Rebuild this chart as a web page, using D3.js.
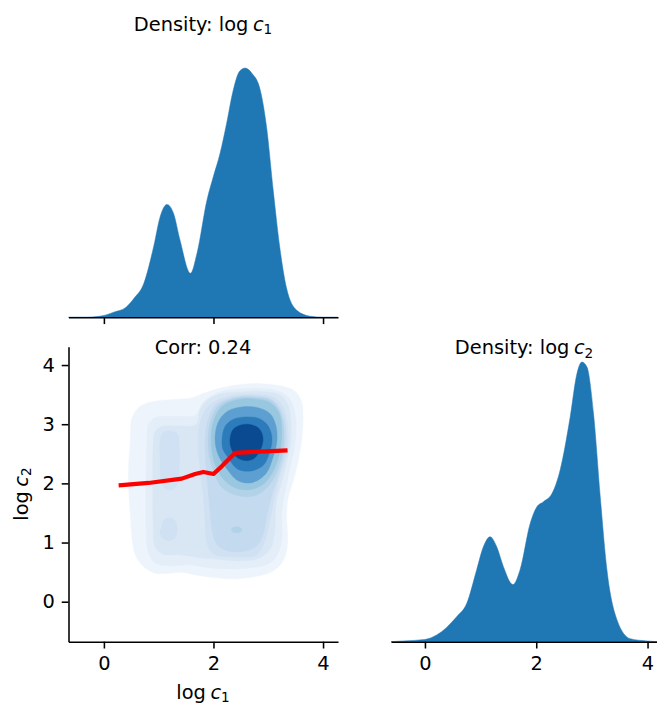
<!DOCTYPE html>
<html>
<head>
<meta charset="utf-8">
<script src="https://cdn.jsdelivr.net/npm/d3@7"></script>
<style>
  html, body { margin: 0; padding: 0; background: #fff; }
  svg { display: block; }
  text { font-family: "DejaVu Sans", sans-serif; fill: #000; }
</style>
</head>
<body>
<svg id="chart" width="657" height="704"></svg>
<script>
// ---------------- DATA ----------------
const tickValues = [0, 2, 4];
const yTickValues = [0, 1, 2, 3, 4];
const corrValue = "0.24";

// Marginal density of log c1
const c1Grid = [-0.65, -0.33, 0, 0.18, 0.4, 0.55, 0.73, 0.91, 1.03, 1.15, 1.27, 1.39, 1.58, 1.70, 1.88, 2.0, 2.12, 2.24, 2.36, 2.48, 2.58, 2.70, 2.85, 2.97, 3.09, 3.21, 3.33, 3.52, 3.76, 4.0, 4.27];
const c1Density = [0, 0, 0.005, 0.014, 0.027, 0.052, 0.093, 0.194, 0.276, 0.308, 0.284, 0.210, 0.120, 0.175, 0.319, 0.385, 0.447, 0.529, 0.619, 0.672, 0.680, 0.666, 0.622, 0.518, 0.347, 0.191, 0.082, 0.019, 0.003, 0, 0];

// Marginal density of log c2
const c2Grid = [-0.61, -0.39, 0, 0.21, 0.57, 0.75, 0.93, 1.05, 1.17, 1.29, 1.41, 1.58, 1.71, 1.89, 2.01, 2.13, 2.28, 2.43, 2.61, 2.73, 2.82, 2.91, 3.03, 3.15, 3.27, 3.45, 3.69, 3.99, 4.17];
const c2Density = [0, 0.002, 0.006, 0.018, 0.067, 0.102, 0.193, 0.254, 0.281, 0.254, 0.201, 0.153, 0.193, 0.316, 0.361, 0.375, 0.396, 0.460, 0.602, 0.717, 0.749, 0.736, 0.610, 0.388, 0.193, 0.059, 0.008, 0.002, 0];

// Smoothed trend line (log c1 -> log c2)
const trendX = [0.269, 0.815, 1.423, 1.665, 1.816, 2.0, 2.151, 2.393, 2.757, 3.352];
const trendY = [1.966, 2.007, 2.080, 2.159, 2.193, 2.159, 2.288, 2.515, 2.532, 2.559];

// Joint density iso-contours (outer to inner), [log c1, log c2]
const ring1 = [[0.482,2.712],[0.513,3.108],[0.664,3.305],[0.937,3.390],[1.301,3.419],[1.605,3.447],[1.847,3.532],[2.151,3.617],[2.515,3.673],[2.879,3.685],[3.243,3.644],[3.485,3.559],[3.607,3.390],[3.636,3.108],[3.607,2.712],[3.545,2.373],[3.454,2.034],[3.363,1.753],[3.334,1.469],[3.352,1.131],[3.334,0.847],[3.243,0.651],[3.061,0.508],[2.757,0.424],[2.393,0.385],[2.029,0.407],[1.665,0.453],[1.423,0.498],[1.179,0.481],[0.937,0.481],[0.724,0.593],[0.573,0.792],[0.513,1.075],[0.482,1.469],[0.451,1.922],[0.451,2.317]];
const ring2 = [[0.786,2.741],[0.810,2.995],[0.937,3.114],[1.301,3.136],[1.665,3.147],[1.793,3.351],[1.975,3.486],[2.211,3.571],[2.520,3.597],[2.884,3.605],[3.212,3.554],[3.412,3.402],[3.503,3.080],[3.485,2.656],[3.412,2.317],[3.321,1.927],[3.248,1.520],[3.248,1.046],[3.157,0.775],[2.994,0.639],[2.666,0.571],[2.302,0.554],[1.938,0.571],[1.574,0.622],[1.210,0.605],[0.937,0.656],[0.810,0.825],[0.773,1.130],[0.764,1.724],[0.773,2.232]];
const ring3 = [[0.901,2.656],[0.937,2.876],[1.065,2.961],[1.392,2.969],[1.683,2.995],[1.756,3.249],[1.902,3.419],[2.157,3.520],[2.484,3.546],[2.884,3.554],[3.212,3.495],[3.358,3.334],[3.412,3.046],[3.412,2.707],[3.339,2.368],[3.230,1.978],[3.139,1.639],[3.121,1.215],[3.048,0.910],[2.848,0.741],[2.484,0.690],[2.120,0.715],[1.756,0.741],[1.392,0.792],[1.065,0.808],[0.937,0.927],[0.901,1.300],[0.892,1.893],[0.892,2.402]];
const ring4 = [[1.720,2.741],[1.774,3.080],[1.938,3.334],[2.302,3.478],[2.757,3.503],[3.103,3.453],[3.285,3.266],[3.358,2.944],[3.349,2.537],[3.212,2.131],[3.103,1.724],[3.012,1.300],[2.921,0.978],[2.757,0.775],[2.393,0.758],[2.029,0.792],[1.884,0.961],[1.847,1.385],[1.811,1.808],[1.756,2.232]];
const ring4Left = [[1.028,2.741],[1.083,2.859],[1.210,2.885],[1.338,2.842],[1.374,2.656],[1.374,2.232],[1.338,1.978],[1.247,1.893],[1.119,1.910],[1.046,2.063],[1.028,2.402]];
const ring4Low = [[1.046,1.249],[1.101,1.385],[1.210,1.419],[1.301,1.368],[1.338,1.215],[1.301,1.080],[1.192,1.029],[1.083,1.063],[1.028,1.147]];
const ring5 = [[1.847,2.741],[1.902,3.080],[2.047,3.334],[2.393,3.461],[2.757,3.478],[3.067,3.419],[3.249,3.215],[3.321,2.910],[3.303,2.537],[3.194,2.164],[3.067,1.808],[2.976,1.469],[2.903,1.130],[2.793,0.944],[2.575,0.859],[2.266,0.859],[2.066,0.961],[1.975,1.215],[1.938,1.554],[1.902,1.893],[1.865,2.317]];
const ring6 = [[1.902,2.741],[1.956,3.080],[2.102,3.317],[2.411,3.444],[2.757,3.453],[3.048,3.402],[3.212,3.215],[3.285,2.910],[3.267,2.537],[3.157,2.198],[2.994,1.944],[2.757,1.792],[2.448,1.792],[2.157,1.927],[1.993,2.232],[1.920,2.486]];
const ring6Low = [[2.324,1.215],[2.354,1.250],[2.424,1.265],[2.494,1.250],[2.524,1.215],[2.494,1.180],[2.424,1.165],[2.354,1.180]];
const ring7 = [[1.956,2.741],[2.011,3.080],[2.175,3.317],[2.448,3.419],[2.757,3.427],[3.030,3.368],[3.194,3.198],[3.248,2.910],[3.212,2.537],[3.103,2.232],[2.921,1.995],[2.666,1.893],[2.393,1.927],[2.157,2.097],[2.011,2.368]];
const ring8 = [[2.029,2.741],[2.084,3.029],[2.248,3.215],[2.520,3.292],[2.793,3.283],[3.030,3.181],[3.139,2.978],[3.157,2.707],[3.085,2.436],[2.957,2.164],[2.702,2.012],[2.448,2.046],[2.229,2.266],[2.084,2.486]];
const ring9 = [[2.157,2.741],[2.211,2.961],[2.357,3.080],[2.593,3.122],[2.830,3.097],[2.994,2.978],[3.067,2.775],[3.030,2.537],[2.903,2.300],[2.666,2.207],[2.430,2.249],[2.266,2.436],[2.175,2.571]];
const ring10 = [[2.302,2.741],[2.357,2.910],[2.502,2.986],[2.666,2.995],[2.830,2.927],[2.903,2.775],[2.866,2.588],[2.739,2.419],[2.575,2.385],[2.411,2.453],[2.320,2.605]];

const contourLevels = [[ring1], [ring2], [ring3], [ring4, ring4Left, ring4Low], [ring5], [ring6, ring6Low], [ring7], [ring8], [ring9], [ring10]];
const levelColors = ["#edf4fc", "#e3eef9", "#d9e7f5", "#cfe1f2", "#c4daee", "#b2d2e8", "#99c7e0", "#5c9fd0", "#2c7bba", "#0a4a90"];

// ---------------- DRAWING ----------------
const FS = 19.4;
const svg = d3.select("#chart");
const blue = "#1f77b4";
const spineW = 1.55, tickLen = 6.8, tickPad = 6.8;
const fmt = d3.format("d");

const xL = d3.scaleLinear().domain([-0.646, 4.273]).range([68.5, 338]);
const yTop = d3.scaleLinear().domain([0, 0.75]).range([317.3, 42.4]);
const yBL = d3.scaleLinear().domain([-0.676, 4.31]).range([641.7, 346.7]);
const xR = d3.scaleLinear().domain([-0.61, 4.17]).range([391, 657]);
const yR = d3.scaleLinear().domain([0, 0.79]).range([641.7, 346.7]);

function styleAxis(g) {
  g.selectAll("path.domain").attr("stroke", "#000").attr("stroke-width", spineW);
  g.selectAll(".tick line").attr("stroke", "#000").attr("stroke-width", spineW);
  g.selectAll(".tick text").attr("font-size", FS).attr("font-family", "DejaVu Sans").attr("fill", "#000");
}

function mathLabel(sel, prefix, sub) {
  sel.append("tspan").text(prefix + "log");
  sel.append("tspan").attr("dx", 4.5).attr("font-style", "italic").text("c");
  sel.append("tspan").attr("font-size", FS * 0.7).attr("dy", 3.2).text(sub);
}

// ---- Top-left: density of log c1
const areaTop = d3.area()
  .x((d, i) => xL(c1Grid[i]))
  .y0(yTop(0))
  .y1((d) => yTop(d))
  .curve(d3.curveMonotoneX);
svg.append("path").datum(c1Density).attr("d", areaTop)
  .attr("fill", blue).attr("stroke", blue).attr("stroke-width", 0.5);

const axTop = svg.append("g").attr("transform", `translate(0,${yTop(0)})`)
  .call(d3.axisBottom(xL).tickValues(tickValues).tickSize(tickLen).tickSizeOuter(0).tickFormat(""));
styleAxis(axTop);

mathLabel(svg.append("text").attr("x", 203).attr("y", 30.5).attr("text-anchor", "middle").attr("font-size", FS), "Density: ", "1");

// ---- Bottom-left: joint density
const ring = d3.line().x(d => xL(d[0])).y(d => yBL(d[1])).curve(d3.curveCatmullRomClosed.alpha(0.5));
contourLevels.forEach((polys, i) => {
  polys.forEach(p => {
    svg.append("path").attr("d", ring(p)).attr("fill", levelColors[i]).attr("stroke", levelColors[i]).attr("stroke-width", 0.4);
  });
});

const trend = d3.line().x((d, i) => xL(trendX[i])).y(d => yBL(d));
svg.append("path").datum(trendY).attr("d", trend)
  .attr("fill", "none").attr("stroke", "#ff0000").attr("stroke-width", 4.2).attr("stroke-linejoin", "round");

const axBLx = svg.append("g").attr("transform", `translate(0,${yBL.range()[0]})`)
  .call(d3.axisBottom(xL).tickValues(tickValues).tickFormat(fmt).tickSize(tickLen).tickPadding(tickPad).tickSizeOuter(0));
styleAxis(axBLx);
axBLx.selectAll(".tick text").attr("dy", "0.78em");

const axBLy = svg.append("g").attr("transform", `translate(${xL.range()[0]},0)`)
  .call(d3.axisLeft(yBL).tickValues(yTickValues).tickFormat(fmt).tickSize(tickLen).tickPadding(tickPad).tickSizeOuter(0));
styleAxis(axBLy);

svg.append("text").attr("x", 203).attr("y", 354.3).attr("text-anchor", "middle").attr("font-size", FS)
  .text("Corr: " + corrValue);

mathLabel(svg.append("text").attr("x", 203).attr("y", 699).attr("text-anchor", "middle").attr("font-size", FS), "", "1");
mathLabel(svg.append("text").attr("transform", "translate(28,494) rotate(-90)").attr("text-anchor", "middle").attr("font-size", FS), "", "2");

// ---- Bottom-right: density of log c2
const areaR = d3.area()
  .x((d, i) => xR(c2Grid[i]))
  .y0(yR(0))
  .y1((d) => yR(d))
  .curve(d3.curveMonotoneX);
svg.append("path").datum(c2Density).attr("d", areaR)
  .attr("fill", blue).attr("stroke", blue).attr("stroke-width", 0.5);

const axR = svg.append("g").attr("transform", `translate(0,${yR(0)})`)
  .call(d3.axisBottom(xR).tickValues(tickValues).tickFormat(fmt).tickSize(tickLen).tickPadding(tickPad).tickSizeOuter(0));
styleAxis(axR);
axR.selectAll(".tick text").attr("dy", "0.78em");

mathLabel(svg.append("text").attr("x", 524).attr("y", 354.3).attr("text-anchor", "middle").attr("font-size", FS), "Density: ", "2");
</script>
</body>
</html>
